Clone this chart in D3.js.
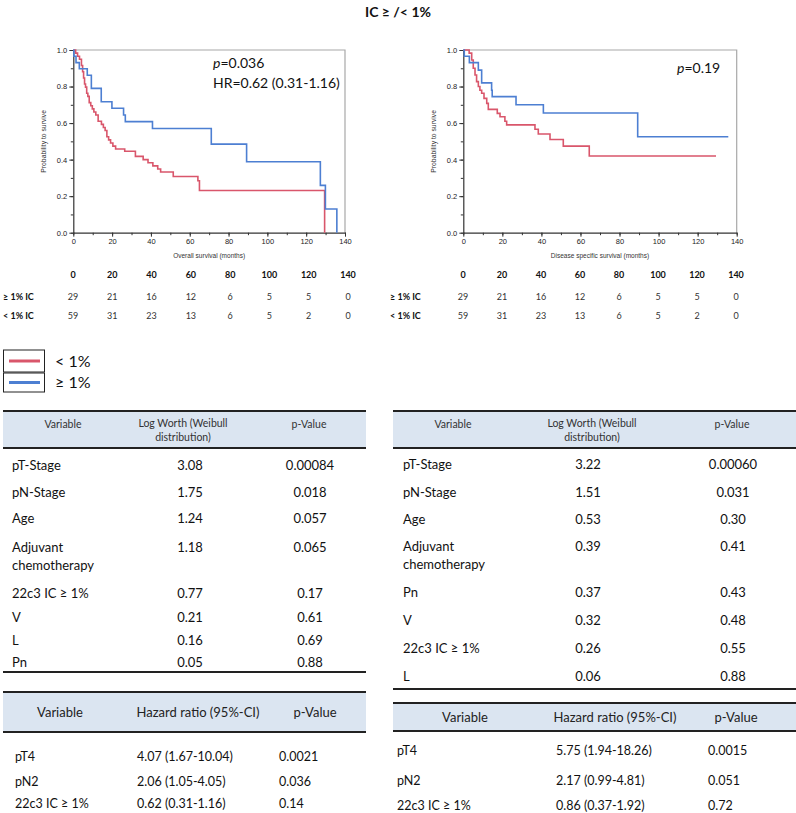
<!DOCTYPE html>
<html><head><meta charset="utf-8">
<script src="https://cdn.jsdelivr.net/npm/d3@7"></script>
<style>body{margin:0;background:#fff}svg{display:block}</style>
</head><body>
<svg id="c" width="796" height="813"></svg>
<script>
// ---------- DATA ----------
const osHighT = [0, 0.3, 1.4, 3.1, 7.2, 9.3, 14.4, 19.9, 25.9, 26.8, 40.8, 71.1, 89.3, 127.3, 129.9, 135.8];
const osHighS = [1, 0.966, 0.931, 0.897, 0.862, 0.790, 0.717, 0.681, 0.644, 0.608, 0.570, 0.485, 0.388, 0.259, 0.130, 0];
const osLowT = [0, 1.2, 2.2, 3.2, 4.2, 4.8, 5.3, 5.8, 6.3, 6.9, 7.5, 8.2, 9.0, 9.8, 10.6, 11.6, 12.8, 14.5, 15.5, 16.4, 17.3, 18.2, 19.2, 20.4, 21.8, 26.5, 32.0, 36.0, 38.5, 41.0, 43.5, 45.0, 51.5, 64.2, 65.0, 129.5];
const osLowS = [1, 0.983, 0.966, 0.949, 0.915, 0.881, 0.847, 0.814, 0.797, 0.763, 0.746, 0.712, 0.695, 0.678, 0.661, 0.644, 0.610, 0.593, 0.576, 0.559, 0.525, 0.508, 0.491, 0.474, 0.458, 0.446, 0.418, 0.400, 0.383, 0.366, 0.349, 0.332, 0.308, 0.284, 0.231, 0];
const dssHighT = [0, 0.5, 3.1, 7.7, 9.4, 14.5, 14.8, 27.0, 41.0, 89.3, 135.7];
const dssHighS = [1, 0.966, 0.931, 0.890, 0.820, 0.780, 0.745, 0.700, 0.655, 0.525, 0.525];
const dssLowT = [0, 3.0, 4.3, 5.1, 6.0, 6.8, 7.7, 8.5, 9.4, 10.6, 12.0, 12.8, 17.4, 18.8, 21.3, 22.2, 36.7, 38.4, 44.4, 51.2, 64.5, 129.4];
const dssLowS = [1, 0.983, 0.945, 0.900, 0.863, 0.827, 0.800, 0.780, 0.763, 0.735, 0.708, 0.675, 0.653, 0.635, 0.610, 0.590, 0.566, 0.540, 0.510, 0.474, 0.420, 0.420];

const riskTimes = [0, 20, 40, 60, 80, 100, 120, 140];
const riskHigh = [29, 21, 16, 12, 6, 5, 5, 0];
const riskLow = [59, 31, 23, 13, 6, 5, 2, 0];
const riskLabels = ["≥ 1% IC", "< 1% IC"];

const yTicks = [0, 0.2, 0.4, 0.6, 0.8, 1.0];
const xTicks = [0, 20, 40, 60, 80, 100, 120, 140];

const legendLabels = ["< 1%", "≥ 1%"];

const mvHeader = ["Variable", "Log Worth (Weibull\ndistribution)", "p-Value"];
const mvOSVars = ["pT-Stage", "pN-Stage", "Age", "Adjuvant\nchemotherapy", "22c3 IC ≥ 1%", "V", "L", "Pn"];
const mvOSLogWorth = ["3.08", "1.75", "1.24", "1.18", "0.77", "0.21", "0.16", "0.05"];
const mvOSP = ["0.00084", "0.018", "0.057", "0.065", "0.17", "0.61", "0.69", "0.88"];
const mvDSSVars = ["pT-Stage", "pN-Stage", "Age", "Adjuvant\nchemotherapy", "Pn", "V", "22c3 IC ≥ 1%", "L"];
const mvDSSLogWorth = ["3.22", "1.51", "0.53", "0.39", "0.37", "0.32", "0.26", "0.06"];
const mvDSSP = ["0.00060", "0.031", "0.30", "0.41", "0.43", "0.48", "0.55", "0.88"];

const hrHeader = ["Variable", "Hazard ratio (95%-CI)", "p-Value"];
const hrVars = ["pT4", "pN2", "22c3 IC ≥ 1%"];
const hrOS = ["4.07 (1.67-10.04)", "2.06 (1.05-4.05)", "0.62 (0.31-1.16)"];
const hrOSP = ["0.0021", "0.036", "0.14"];
const hrDSS = ["5.75 (1.94-18.26)", "2.17 (0.99-4.81)", "0.86 (0.37-1.92)"];
const hrDSSP = ["0.0015", "0.051", "0.72"];

// ---------- STYLE ----------
const RED = "#d9566b", BLUE = "#4d7fd2";
const TF = "Lato, 'Open Sans', sans-serif";
const PF = "'Liberation Sans', Arial, sans-serif";
const HEADBG = "#dbe5f1";

const svg = d3.select("#c");

svg.append("text").attr("x", 398).attr("y", 17).attr("text-anchor", "middle")
  .attr("font-family", TF).attr("font-weight", "bold").attr("font-size", 14).attr("fill", "#111")
  .text("IC ≥ /< 1%");

function km(x0, x1, xlabel, series, annot) {
  const x = d3.scaleLinear().domain([0, 140]).range([x0, x1]);
  const y = d3.scaleLinear().domain([0, 1]).range([232.7, 50]);
  const g = svg.append("g");
  g.append("path").attr("d", `M${x0},${y(1)}H${x1}V${y(0)}`).attr("fill", "none").attr("stroke", "#a8a8a8").attr("stroke-width", 1.2);
  g.append("g").attr("transform", `translate(${x0},0)`)
    .call(d3.axisLeft(y).tickValues(d3.range(0, 1.01, 0.1)).tickSize(2.5).tickFormat(""))
    .call(a => a.select(".domain").remove()).selectAll("line").attr("stroke", "#333");
  g.append("g").attr("transform", `translate(0,${y(0)})`)
    .call(d3.axisBottom(x).tickValues(d3.range(0, 141, 10)).tickSize(2.5).tickFormat(""))
    .call(a => a.select(".domain").remove()).selectAll("line").attr("stroke", "#333");
  const ya = g.append("g").attr("transform", `translate(${x0},0)`)
    .call(d3.axisLeft(y).tickValues(yTicks).tickFormat(d3.format(".1f")).tickSize(4).tickPadding(2).tickSizeOuter(0));
  const xa = g.append("g").attr("transform", `translate(0,${y(0)})`)
    .call(d3.axisBottom(x).tickValues(xTicks).tickFormat(d3.format("d")).tickSize(4).tickPadding(1.5).tickSizeOuter(0));
  [ya, xa].forEach(a => {
    a.select(".domain").attr("stroke", "#333").attr("stroke-width", 1.2);
    a.selectAll("line").attr("stroke", "#333");
    a.selectAll("text").attr("font-family", PF).attr("font-size", 7.5).attr("fill", "#222");
  });
  g.append("text").attr("transform", `translate(${x0 - 27},${y(0.5)}) rotate(-90)`)
    .attr("text-anchor", "middle").attr("font-family", PF).attr("font-size", 6.8).attr("fill", "#333")
    .text("Probability to survive");
  g.append("text").attr("x", (x0 + x1) / 2).attr("y", 258).attr("text-anchor", "middle")
    .attr("font-family", PF).attr("font-size", 6.5).attr("fill", "#333").text(xlabel);
  const line = d3.line().x(d => x(d[0])).y(d => y(d[1])).curve(d3.curveStepAfter);
  series.forEach(s => {
    const pts = s.t.map((t, i) => [t, s.s[i]]);
    g.append("path").attr("d", line(pts)).attr("fill", "none").attr("stroke", s.c).attr("stroke-width", 1.6);
  });
  annot.forEach(a => {
    const t = g.append("text").attr("x", a.x).attr("y", a.y).attr("font-family", TF).attr("font-size", 14).attr("fill", "#111");
    if (a.p) { t.append("tspan").attr("font-style", "italic").text("p"); t.append("tspan").text(a.p); }
    else t.text(a.text);
  });
}

km(73.3, 345, "Overall survival (months)",
  [{t: osLowT, s: osLowS, c: RED}, {t: osHighT, s: osHighS, c: BLUE}],
  [{x: 213, y: 68, p: "=0.036"}, {x: 213, y: 88, text: "HR=0.62 (0.31-1.16)"}]);
km(463.3, 736.7, "Disease specific survival (months)",
  [{t: dssLowT, s: dssLowS, c: RED}, {t: dssHighT, s: dssHighS, c: BLUE}],
  [{x: 677, y: 73, p: "=0.19"}]);

// ---------- risk tables ----------
function risk(x0, x1, labX) {
  const x = d3.scaleLinear().domain([0, 140]).range([x0, x1]);
  const g = svg.append("g").attr("font-family", TF).attr("font-size", 9);
  g.selectAll(".h").data(riskTimes).join("text").attr("x", d => x(d)).attr("y", 278)
    .attr("text-anchor", "middle").attr("font-weight", "bold").attr("fill", "#111").text(d => d);
  [riskHigh, riskLow].forEach((row, r) => {
    const yy = 300 + r * 19;
    g.append("text").attr("x", labX).attr("y", yy).attr("font-weight", "bold").attr("fill", "#111").text(riskLabels[r]);
    g.selectAll(".r" + r).data(row).join("text").attr("x", (d, i) => x(riskTimes[i])).attr("y", yy)
      .attr("text-anchor", "middle").attr("fill", "#333").text(d => d);
  });
}
risk(73, 348, 3);
risk(463, 736, 390);

// ---------- legend ----------
[RED, BLUE].forEach((c, i) => {
  const y0 = i === 0 ? 350 : 373, h = i === 0 ? 22 : 19;
  svg.append("rect").attr("x", 3.5).attr("y", y0).attr("width", 41).attr("height", h)
    .attr("fill", "#fff").attr("stroke", "#222").attr("stroke-width", 1);
  svg.append("line").attr("x1", 9).attr("x2", 40).attr("y1", y0 + h / 2).attr("y2", y0 + h / 2)
    .attr("stroke", c).attr("stroke-width", 3);
  svg.append("text").attr("x", 55).attr("y", y0 + h / 2 + 5.5).attr("font-family", TF).attr("font-size", 16)
    .attr("fill", "#111").text(legendLabels[i]);
});

// ---------- multivariate tables ----------
function mvTable(x0, x1, vars, lw, pv, rowY, bottomY, headCx, bodyX, bodyCx) {
  const g = svg.append("g").attr("font-family", TF);
  g.append("rect").attr("x", x0).attr("y", 411).attr("width", x1 - x0).attr("height", 37).attr("fill", HEADBG);
  [411, 448, bottomY].forEach(yy => g.append("line").attr("x1", x0).attr("x2", x1).attr("y1", yy).attr("y2", yy)
    .attr("stroke", "#222").attr("stroke-width", 2));
  mvHeader.forEach((h, i) => {
    const lines = h.split("\n");
    lines.forEach((l, j) => g.append("text").attr("x", headCx[i]).attr("y", (lines.length === 1 ? 428 : 427) + j * 14)
      .attr("text-anchor", "middle").attr("font-size", 10.5).attr("fill", "#333").text(l));
  });
  vars.forEach((v, i) => {
    const y = rowY[i] + 4.5;
    v.split("\n").forEach((l, j) => g.append("text").attr("x", bodyX).attr("y", y + j * 18).attr("font-size", 13)
      .attr("fill", "#111").text(l));
    g.append("text").attr("x", bodyCx[0]).attr("y", y).attr("text-anchor", "middle").attr("font-size", 13).attr("fill", "#111").text(lw[i]);
    g.append("text").attr("x", bodyCx[1]).attr("y", y).attr("text-anchor", "middle").attr("font-size", 13).attr("fill", "#111").text(pv[i]);
  });
}
mvTable(3, 366, mvOSVars, mvOSLogWorth, mvOSP, [465, 492, 518, 547, 593, 617, 640, 662], 672,
  [63, 183, 309], 12, [190, 310]);
mvTable(393, 796, mvDSSVars, mvDSSLogWorth, mvDSSP, [464, 492, 519, 546, 592, 620, 648, 676], 689,
  [453, 592, 732], 403, [588, 733]);

function hrTable(x0, x1, top, bot, hr, pv, rowY, headCx, bodyX) {
  const g = svg.append("g").attr("font-family", TF);
  g.append("rect").attr("x", x0).attr("y", top).attr("width", x1 - x0).attr("height", bot - top).attr("fill", HEADBG);
  [top, bot].forEach(yy => g.append("line").attr("x1", x0).attr("x2", x1).attr("y1", yy).attr("y2", yy)
    .attr("stroke", "#222").attr("stroke-width", 2));
  hrHeader.forEach((h, i) => g.append("text").attr("x", headCx[i]).attr("y", (top + bot) / 2 + 4.5)
    .attr("text-anchor", "middle").attr("font-size", 13).attr("fill", "#222").text(h));
  hrVars.forEach((v, i) => {
    [v, hr[i], pv[i]].forEach((t, j) => g.append("text").attr("x", bodyX[j]).attr("y", rowY[i] + 4.5)
      .attr("font-size", 12.5).attr("fill", "#111").text(t));
  });
}
hrTable(3, 366, 692, 732, hrOS, hrOSP, [756, 781, 803], [60, 198, 315], [15, 137, 279]);
hrTable(393, 796, 703, 731, hrDSS, hrDSSP, [750, 780, 805], [465, 615, 736], [397, 556, 708]);
</script>
</body></html>
